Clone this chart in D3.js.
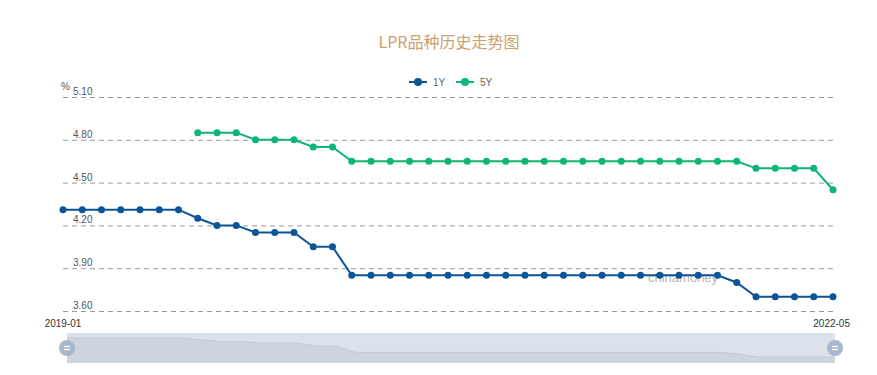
<!DOCTYPE html>
<html>
<head>
<meta charset="utf-8">
<script src="https://cdn.jsdelivr.net/npm/d3@7"></script>
<style>
  body { margin: 0; background: #fff; font-family: "Noto Sans CJK SC", "Liberation Sans", Arial, sans-serif; }
</style>
</head>
<body>
<div id="chart"></div>
<script>
// months 2019-01 .. 2022-05
var months = [];
for (var yr = 2019; yr <= 2022; yr++) {
  for (var m = 1; m <= 12; m++) {
    if (yr == 2022 && m > 5) break;
    months.push(yr + "-" + (m < 10 ? "0" + m : m));
  }
}

var lpr1y = [4.31, 4.31, 4.31, 4.31, 4.31, 4.31, 4.31, 4.25, 4.20, 4.20, 4.15, 4.15,
             4.15, 4.05, 4.05, 3.85, 3.85, 3.85, 3.85, 3.85, 3.85, 3.85, 3.85, 3.85,
             3.85, 3.85, 3.85, 3.85, 3.85, 3.85, 3.85, 3.85, 3.85, 3.85, 3.85, 3.80,
             3.70, 3.70, 3.70, 3.70, 3.70];
var lpr5y = [null, null, null, null, null, null, null, 4.85, 4.85, 4.85, 4.80, 4.80,
             4.80, 4.75, 4.75, 4.65, 4.65, 4.65, 4.65, 4.65, 4.65, 4.65, 4.65, 4.65,
             4.65, 4.65, 4.65, 4.65, 4.65, 4.65, 4.65, 4.65, 4.65, 4.65, 4.65, 4.65,
             4.60, 4.60, 4.60, 4.60, 4.45];
var yTicks = [3.60, 3.90, 4.20, 4.50, 4.80, 5.10];

var series = [
  {name: "1Y", values: lpr1y, color: "#0b5597"},
  {name: "5Y", values: lpr5y, color: "#0db675"}
];

var W = 877, H = 375;
var svg = d3.select("#chart").append("svg")
  .attr("width", W)
  .attr("height", H);

var x = d3.scalePoint().domain(months).range([63, 833]);
var y = d3.scaleLinear().domain([3.6, 5.1]).range([311, 97]);

// title
svg.append("text")
  .attr("x", 449).attr("y", 48)
  .attr("text-anchor", "middle")
  .attr("font-size", 16)
  .attr("fill", "#c9a270")
  .text("LPR品种历史走势图");

// watermark
svg.append("text")
  .attr("x", 648).attr("y", 282)
  .attr("font-size", 13)
  .attr("fill", "#b5b5b5")
  .attr("font-family", "Liberation Sans, Arial, sans-serif")
  .text("chinamoney");

// grid + y labels
var grid = svg.append("g");
yTicks.forEach(function(t) {
  grid.append("line")
    .attr("x1", 63).attr("x2", 833)
    .attr("y1", y(t) + 0.5).attr("y2", y(t) + 0.5)
    .attr("stroke", "#999")
    .attr("stroke-dasharray", "5,4");
  grid.append("text")
    .attr("x", 73).attr("y", y(t) - 2)
    .attr("font-size", 10)
    .attr("fill", "#555")
    .attr("font-family", "Liberation Sans, Arial, sans-serif")
    .text(t.toFixed(2));
});
svg.append("text")
  .attr("x", 61).attr("y", 90)
  .attr("font-size", 10).attr("fill", "#555")
  .attr("font-family", "Liberation Sans, Arial, sans-serif")
  .text("%");

// x labels
svg.append("text")
  .attr("x", x(months[0])).attr("y", 327)
  .attr("text-anchor", "middle")
  .attr("font-size", 10).attr("fill", "#333")
  .attr("font-family", "Liberation Sans, Arial, sans-serif")
  .text(months[0]);
svg.append("text")
  .attr("x", 850).attr("y", 327)
  .attr("text-anchor", "end")
  .attr("font-size", 10).attr("fill", "#333")
  .attr("font-family", "Liberation Sans, Arial, sans-serif")
  .text(months[months.length - 1]);

// lines
var line = d3.line()
  .defined(function(d) { return d != null; })
  .x(function(d, i) { return x(months[i]); })
  .y(function(d) { return y(d); });

series.forEach(function(s) {
  svg.append("path")
    .attr("d", line(s.values))
    .attr("fill", "none")
    .attr("stroke", s.color)
    .attr("stroke-width", 2);
  svg.selectAll(".dot" + s.name)
    .data(s.values.map(function(v, i) { return {v: v, i: i}; }).filter(function(d) { return d.v != null; }))
    .enter().append("circle")
    .attr("cx", function(d) { return x(months[d.i]); })
    .attr("cy", function(d) { return y(d.v); })
    .attr("r", 3.5)
    .attr("fill", s.color);
});

// legend
var legend = svg.append("g").attr("font-family", "Liberation Sans, Arial, sans-serif");
series.forEach(function(s, i) {
  var lx = 409 + i * 47;
  legend.append("line")
    .attr("x1", lx).attr("x2", lx + 18)
    .attr("y1", 82).attr("y2", 82)
    .attr("stroke", s.color).attr("stroke-width", 2);
  legend.append("circle")
    .attr("cx", lx + 9).attr("cy", 82).attr("r", 4)
    .attr("fill", s.color);
  legend.append("text")
    .attr("x", lx + 24).attr("y", 85.5)
    .attr("font-size", 10).attr("fill", "#666")
    .text(s.name);
});

// data zoom slider
var sx = d3.scalePoint().domain(months).range([67, 835]);
var sy = d3.scaleLinear().domain(d3.extent(lpr1y)).range([357, 338]);
var slider = svg.append("g");
slider.append("rect")
  .attr("x", 67).attr("y", 333)
  .attr("width", 768).attr("height", 30)
  .attr("fill", "#dce2eb");
var area = d3.area()
  .x(function(d, i) { return sx(months[i]); })
  .y0(363)
  .y1(function(d) { return sy(d); });
slider.append("path")
  .attr("d", area(lpr1y))
  .attr("fill", "#cdd4df");
slider.append("path")
  .attr("d", d3.line().x(function(d, i) { return sx(months[i]); }).y(function(d) { return sy(d); })(lpr1y))
  .attr("fill", "none")
  .attr("stroke", "#c3cbd8");
[67, 835].forEach(function(hx) {
  slider.append("circle")
    .attr("cx", hx).attr("cy", 348).attr("r", 8)
    .attr("fill", "#a7b7cc");
  [-1.5, 1.5].forEach(function(dy) {
    slider.append("line")
      .attr("x1", hx - 3).attr("x2", hx + 3)
      .attr("y1", 348 + dy).attr("y2", 348 + dy)
      .attr("stroke", "#fff").attr("stroke-width", 1.2);
  });
});
</script>
</body>
</html>
